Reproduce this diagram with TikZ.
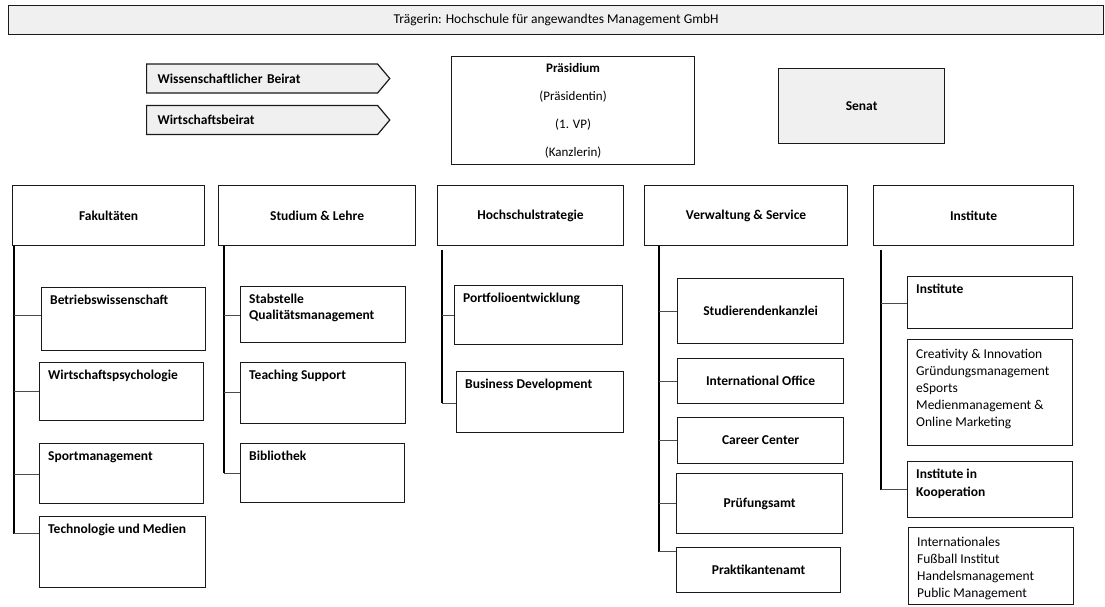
\documentclass[tikz,border=0pt]{standalone}
\usepackage{fontspec}
\setmainfont{Carlito}
\usetikzlibrary{shapes.symbols}
\definecolor{OrgGray}{HTML}{F0F0F0}
\definecolor{OrgLine}{HTML}{1A1A1A}

\begin{document}
\begin{tikzpicture}[x=1pt,y=-1pt,
  box/.style={draw=OrgLine,line width=1.2pt,anchor=north west,inner sep=0pt,
    font=\fontsize{13.5}{16}\selectfont\bfseries},
  head/.style={box,minimum height=60},
  kidtext/.style={anchor=north west,inner sep=0pt,xshift=9pt,yshift=-8pt,align=left,
    font=\fontsize{13.5}{16}\selectfont\bfseries},
  listtext/.style={kidtext,yshift=-2pt,font=\fontsize{13.5}{17}\selectfont},
  beirat/.style={draw=OrgLine,line width=1.2pt,fill=OrgGray,signal,signal to=east,
    signal pointer angle=100,minimum height=29,minimum width=242,text width=209,
    align=left,inner xsep=11pt,anchor=west,font=\fontsize{13.5}{16}\selectfont\bfseries},
  spine/.style={line width=2pt},
  branch/.style={line width=0.9pt,black!70}]
  \useasboundingbox (0,0) rectangle (1105,606);

  \node[box,fill=OrgGray,minimum width=1095,minimum height=29,
    font=\fontsize{13.5}{16}\selectfont] (traeger) at (8,5)
    {Trägerin: Hochschule für angewandtes Management GmbH};

  \node[beirat] (wb) at (146,78.5) {Wissenschaftlicher Beirat};
  \node[beirat] (wib) at (146,120) {Wirtschaftsbeirat};
  \node[box,minimum width=243,minimum height=108,align=center,
    font=\fontsize{13}{28}\selectfont] (praes) at (451,56)
    {\textbf{Präsidium}\\(Präsidentin)\\(1. VP)\\(Kanzlerin)};
  \node[box,fill=OrgGray,minimum width=166,minimum height=75] (senat) at (778,68) {Senat};

  % Bereiche
  \node[head,minimum width=192] (fak) at (12,185) {Fakultäten};
  \node[head,minimum width=197] (sl) at (218,185) {Studium \& Lehre};
  \node[head,minimum width=186] (hs) at (437,185) {Hochschulstrategie};
  \node[head,minimum width=203] (vs) at (644,185) {Verwaltung \& Service};
  \node[head,minimum width=200] (inst) at (873,185) {Institute};

  % Fakultäten
  \node[box,minimum width=164,minimum height=63,label={[kidtext]north west:{Betriebswissenschaft}}] (bw) at (41,287) {};
  \node[box,minimum width=164,minimum height=58,label={[kidtext]north west:{Wirtschaftspsychologie}}] (wp) at (39,362) {};
  \node[box,minimum width=164,minimum height=60,label={[kidtext]north west:{Sportmanagement}}] (sm) at (39,443) {};
  \node[box,minimum width=166,minimum height=71,label={[kidtext]north west:{Technologie und Medien}}] (tm) at (39,516) {};

  % Studium & Lehre
  \node[box,minimum width=165,minimum height=56,label={[kidtext]north west:{Stabstelle\\Qualitätsmanagement}}] (qm) at (240,286) {};
  \node[box,minimum width=165,minimum height=61,label={[kidtext]north west:{Teaching Support}}] (ts) at (240,362) {};
  \node[box,minimum width=164,minimum height=59,label={[kidtext]north west:{Bibliothek}}] (bib) at (240,443) {};

  % Hochschulstrategie
  \node[box,minimum width=168,minimum height=59,label={[kidtext]north west:{Portfolioentwicklung}}] (pe) at (454,285) {};
  \node[box,minimum width=167,minimum height=61,label={[kidtext]north west:{Business Development}}] (bd) at (456,371) {};

  % Verwaltung & Service
  \node[box,minimum width=166,minimum height=65] (sk) at (677,278) {Studierendenkanzlei};
  \node[box,minimum width=166,minimum height=45] (io) at (677,358) {International Office};
  \node[box,minimum width=166,minimum height=46] (cc) at (677,417) {Career Center};
  \node[box,minimum width=166,minimum height=60] (pa) at (676,473) {Prüfungsamt};
  \node[box,minimum width=164,minimum height=45] (pk) at (676,547) {Praktikantenamt};

  % Institute
  \node[box,minimum width=165,minimum height=52,label={[kidtext]north west:{Institute}}] (ins) at (907,276) {};
  \node[box,minimum width=165,minimum height=106,label={[listtext]north west:{Creativity \& Innovation\\Gründungsmanagement\\eSports\\Medienmanagement~\&\\Online Marketing}}] (crea) at (907,339) {};
  \node[box,minimum width=165,minimum height=56,label={[kidtext,font=\fontsize{13.5}{18}\selectfont\bfseries]north west:{Institute in\\Kooperation}}] (ik) at (907,461) {};
  \node[box,minimum width=165,minimum height=77,label={[listtext]north west:{Internationales\\Fußball Institut\\Handelsmanagement\\Public Management}}] (intl) at (908,527) {};

  % Linien
  \coordinate (fak-s) at ([xshift=2pt]fak.south west);
  \coordinate (sl-s) at ([xshift=6pt]sl.south west);
  \coordinate (hs-s) at ([xshift=5pt,yshift=-4pt]hs.south west);
  \coordinate (vs-s) at ([xshift=15pt]vs.south west);
  \coordinate (inst-s) at ([xshift=8pt,yshift=-4pt]inst.south west);
  \draw[spine] (fak-s) -- (fak-s |- 0,534);
  \draw[spine] (sl-s) -- (sl-s |- 0,473);
  \draw[spine] (hs-s) -- (hs-s |- 0,403);
  \draw[spine] (vs-s) -- (vs-s |- 0,552);
  \draw[spine] (inst-s) -- (inst-s |- 0,490);
  \foreach \k/\y in {bw/315,wp/391,sm/474,tm/533}
    \draw[branch] (fak-s |- 0,\y) -- (\k.west |- 0,\y);
  \foreach \k/\y in {qm/315,ts/392,bib/473}
    \draw[branch] (sl-s |- 0,\y) -- (\k.west |- 0,\y);
  \foreach \k/\y in {pe/315,bd/403}
    \draw[branch] (hs-s |- 0,\y) -- (\k.west |- 0,\y);
  \foreach \k/\y in {sk/311,io/381,cc/440,pa/503,pk/551}
    \draw[branch] (vs-s |- 0,\y) -- (\k.west |- 0,\y);
  \foreach \k/\y in {ins/303,ik/489}
    \draw[branch] (inst-s |- 0,\y) -- (\k.west |- 0,\y);
\end{tikzpicture}
\end{document}
